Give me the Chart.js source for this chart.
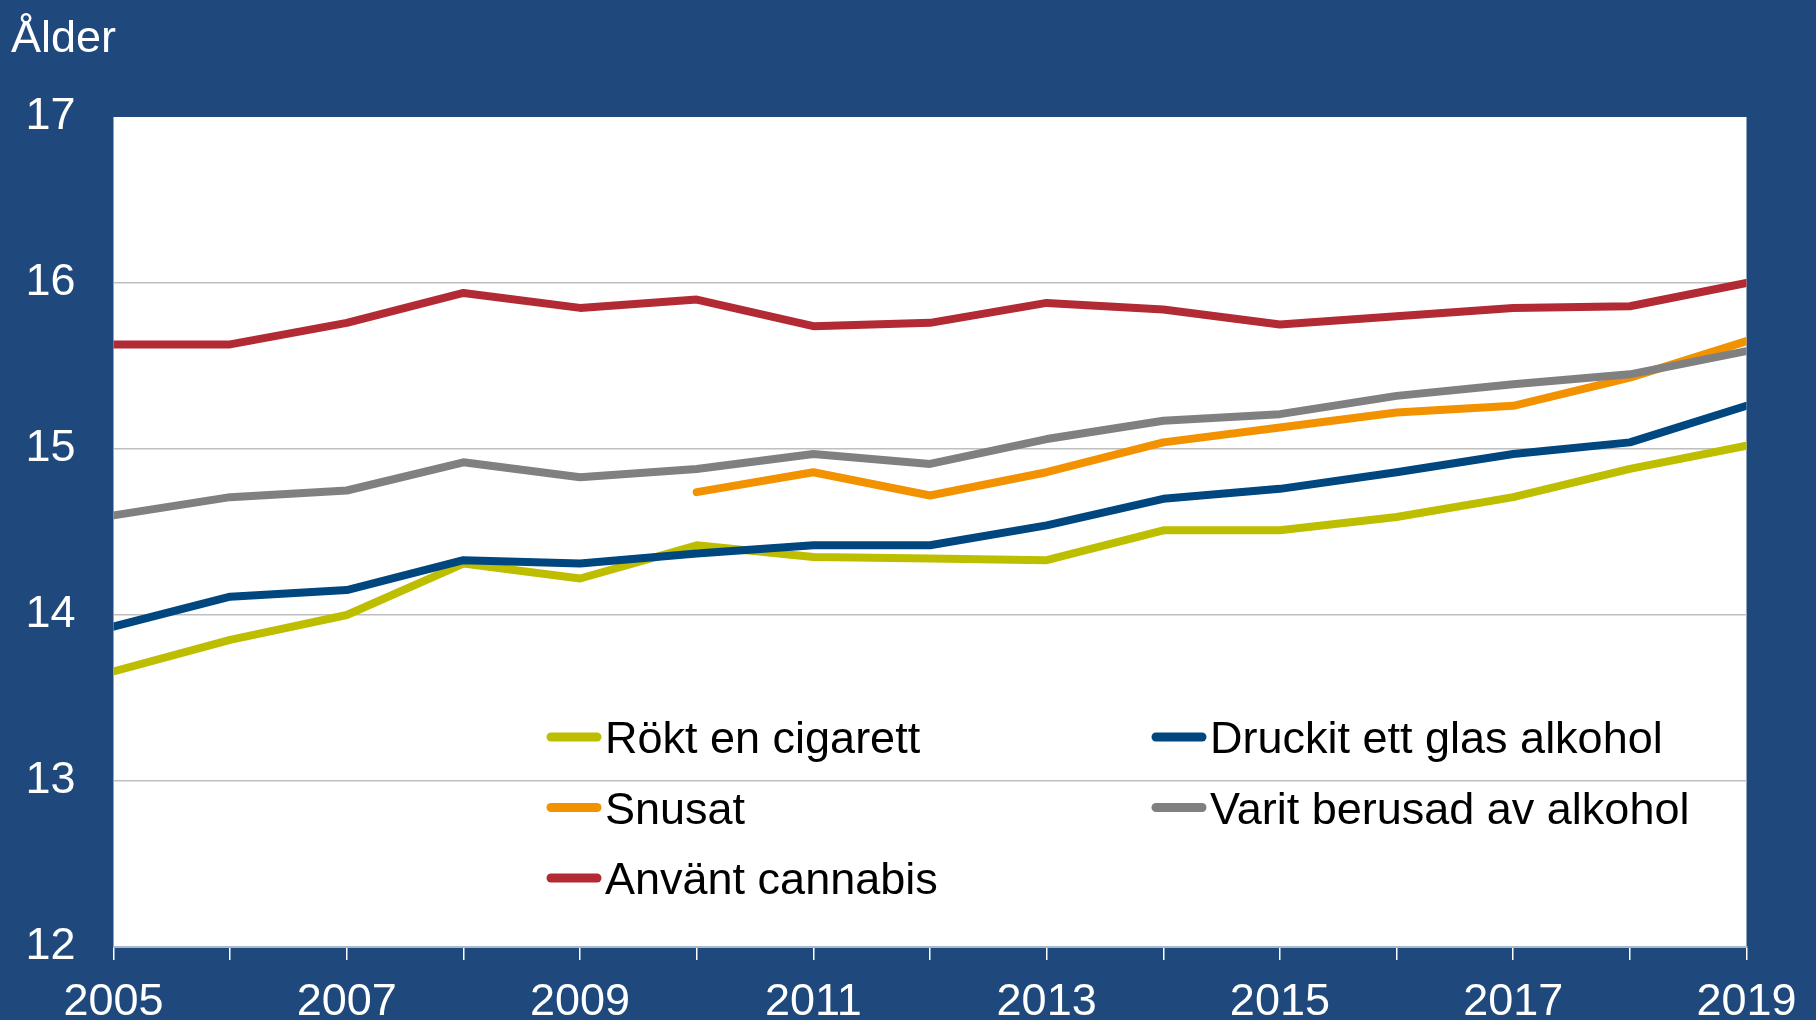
<!DOCTYPE html>
<html>
<head>
<meta charset="utf-8">
<script src="https://cdn.jsdelivr.net/npm/chart.js@4.4.1/dist/chart.umd.min.js"></script>
<style>
  html, body { margin: 0; padding: 0; background: #1f497d; }
  .chart-box { width: 1816px; height: 1020px; }
</style>
</head>
<body>
<div class="chart-box"><canvas id="lineChart1"></canvas></div>
<script>
"use strict";

var years = ['2005', '2006', '2007', '2008', '2009', '2010', '2011', '2012', '2013', '2014', '2015', '2016', '2017', '2018', '2019'];

var rokt = [13.66, 13.85, 14.0, 14.31, 14.22, 14.42, 14.35, 14.34, 14.33, 14.51, 14.51, 14.59, 14.71, 14.88, 15.02];
var druckit = [13.93, 14.11, 14.15, 14.33, 14.31, 14.37, 14.42, 14.42, 14.54, 14.70, 14.76, 14.86, 14.97, 15.04, 15.26];
var snusat = [null, null, null, null, null, 14.74, 14.86, 14.72, 14.86, 15.04, 15.13, 15.22, 15.26, 15.43, 15.65];
var berusad = [14.60, 14.71, 14.75, 14.92, 14.83, 14.88, 14.97, 14.91, 15.06, 15.17, 15.21, 15.32, 15.39, 15.45, 15.59];
var cannabis = [15.63, 15.63, 15.76, 15.94, 15.85, 15.90, 15.74, 15.76, 15.88, 15.84, 15.75, 15.80, 15.85, 15.86, 16.0];

var seriesLabels = ['Rökt en cigarett', 'Druckit ett glas alkohol', 'Snusat', 'Varit berusad av alkohol', 'Använt cannabis'];
var seriesData = [rokt, druckit, snusat, berusad, cannabis];
var seriesColors = ['#bebe00', '#00467f', '#f39200', '#808080', '#b22a33'];

var yTicks = [12, 13, 14, 15, 16, 17];

var FONT = "'Liberation Sans', Arial, sans-serif";

// white plot area, "Ålder" label and the two column legend
var plotDecor = {
  id: 'plotDecor',
  beforeDraw: function (chart) {
    var ctx = chart.ctx;
    var a = chart.chartArea;
    ctx.save();
    ctx.fillStyle = '#ffffff';
    ctx.fillRect(a.left, a.top, a.right - a.left, a.bottom - a.top);
    ctx.restore();
  },
  afterDraw: function (chart) {
    var ctx = chart.ctx;
    ctx.save();
    ctx.font = '45px ' + FONT;
    ctx.fillStyle = '#ffffff';
    ctx.textBaseline = 'alphabetic';
    ctx.fillText('Ålder', 11, 52);

    var colX = [547, 1152];
    var rowY = [753, 823.5, 894];
    chart.data.datasets.forEach(function (ds, i) {
      var x = colX[i % 2];
      var y = rowY[Math.floor(i / 2)];
      ctx.strokeStyle = ds.borderColor;
      ctx.lineWidth = 9;
      ctx.lineCap = 'round';
      ctx.beginPath();
      ctx.moveTo(x + 4, y - 16);
      ctx.lineTo(x + 50, y - 16);
      ctx.stroke();
      ctx.fillStyle = '#000000';
      ctx.fillText(ds.label, x + 58, y);
    });
    ctx.restore();
  }
};

const line1 = document.getElementById('lineChart1');

new Chart(line1, {
  type: 'line',
  data: {
    labels: years,
    datasets: seriesData.map(function (values, i) {
      return {
        label: seriesLabels[i],
        data: values,
        borderColor: seriesColors[i],
        backgroundColor: seriesColors[i],
        borderWidth: 8,
        borderCapStyle: 'round',
        borderJoinStyle: 'round',
        pointRadius: 0,
        pointHoverRadius: 0,
        tension: 0,
        clip: 0,
        order: seriesData.length - i
      };
    })
  },
  options: {
    responsive: true,
    maintainAspectRatio: false,
    animation: false,
    layout: {
      padding: { top: 117, right: 69.5, bottom: 0, left: 0 }
    },
    plugins: {
      legend: { display: false },
      tooltip: { enabled: false }
    },
    scales: {
      x: {
        offset: false,
        afterFit: function (scale) { scale.height = 73; },
        grid: {
          drawOnChartArea: false,
          drawTicks: true,
          tickLength: 13,
          color: '#ffffff',
          lineWidth: 1.5
        },
        border: { display: true, color: '#a9b8cc', width: 2 },
        ticks: {
          autoSkip: false,
          maxRotation: 0,
          padding: 16,
          color: '#ffffff',
          font: { size: 45, family: FONT },
          callback: function (val, index) {
            return index % 2 === 0 ? years[index] : '';
          }
        }
      },
      y: {
        min: yTicks[0],
        max: yTicks[yTicks.length - 1],
        afterFit: function (scale) { scale.width = 113.5; },
        afterBuildTicks: function (scale) {
          scale.ticks = yTicks.map(function (v) { return { value: v }; });
        },
        grid: {
          drawTicks: false,
          color: function (c) {
            return (c.tick && (c.tick.value === 12 || c.tick.value === 17)) ? 'rgba(0,0,0,0)' : '#bfbfbf';
          },
          lineWidth: 1.5
        },
        border: { display: false },
        ticks: {
          padding: 38,
          color: '#ffffff',
          font: { size: 45, family: FONT }
        }
      }
    }
  },
  plugins: [plotDecor]
});
</script>
</body>
</html>
